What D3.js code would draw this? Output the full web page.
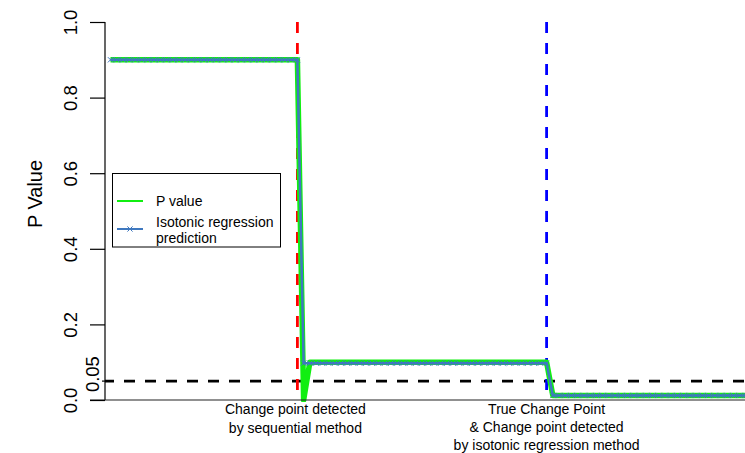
<!DOCTYPE html>
<html>
<head>
<meta charset="utf-8">
<script src="https://cdn.jsdelivr.net/npm/d3@7"></script>
<style>
  html, body { margin: 0; padding: 0; background: #fff; }
  svg { display: block; font-family: "Liberation Sans", Arial, sans-serif; }
</style>
</head>
<body>
<svg id="chart" width="745" height="453"></svg>
<script>
// Observation index of each sample
const obsIndex = [
  1,2,3,4,5,6,7,8,9,10,11,12,13,14,15,16,17,18,19,20,
  21,22,23,24,25,26,27,28,29,30,31,32,33,34,35,36,37,38,39,40,
  41,42,43,44,45,46,47,48,49,50,51,52,53,54,55,56,57,58,59,60,
  61,62,63,64,65,66,67,68,69,70,71,72,73,74,75,76,77,78,79,80,
  81,82,83,84,85,86,87,88,89,90,91,92,93,94,95,96,97,98,99,100,
  101,102,103,104
];

// Sequential p values
const pValue = [
  0.9,0.9,0.9,0.9,0.9,0.9,0.9,0.9,0.9,0.9,0.9,0.9,0.9,0.9,0.9,0.9,0.9,0.9,0.9,0.9,
  0.9,0.9,0.9,0.9,0.9,0.9,0.9,0.9,0.9,0.9,0.9,0.0,0.1,0.1,0.1,0.1,0.1,0.1,0.1,0.1,
  0.1,0.1,0.1,0.1,0.1,0.1,0.1,0.1,0.1,0.1,0.1,0.1,0.1,0.1,0.1,0.1,0.1,0.1,0.1,0.1,
  0.1,0.1,0.1,0.1,0.1,0.1,0.1,0.1,0.1,0.1,0.1,0.012,0.012,0.012,0.012,0.012,0.012,0.012,0.012,0.012,
  0.012,0.012,0.012,0.012,0.012,0.012,0.012,0.012,0.012,0.012,0.012,0.012,0.012,0.012,0.012,0.012,0.012,0.012,0.012,0.012,
  0.012,0.012,0.012,0.012
];

// Isotonic (non-increasing) regression fit of the p values
const isoFit = [
  0.9,0.9,0.9,0.9,0.9,0.9,0.9,0.9,0.9,0.9,0.9,0.9,0.9,0.9,0.9,0.9,0.9,0.9,0.9,0.9,
  0.9,0.9,0.9,0.9,0.9,0.9,0.9,0.9,0.9,0.9,0.9,0.0975,0.0975,0.0975,0.0975,0.0975,0.0975,0.0975,0.0975,0.0975,
  0.0975,0.0975,0.0975,0.0975,0.0975,0.0975,0.0975,0.0975,0.0975,0.0975,0.0975,0.0975,0.0975,0.0975,0.0975,0.0975,0.0975,0.0975,0.0975,0.0975,
  0.0975,0.0975,0.0975,0.0975,0.0975,0.0975,0.0975,0.0975,0.0975,0.0975,0.0975,0.012,0.012,0.012,0.012,0.012,0.012,0.012,0.012,0.012,
  0.012,0.012,0.012,0.012,0.012,0.012,0.012,0.012,0.012,0.012,0.012,0.012,0.012,0.012,0.012,0.012,0.012,0.012,0.012,0.012,
  0.012,0.012,0.012,0.012
];

const yTicks = [0, 0.2, 0.4, 0.6, 0.8, 1.0];
const yTickLabels = ["0.0", "0.2", "0.4", "0.6", "0.8", "1.0"];
const alphaLevel = 0.05;
const alphaLabel = "0.05";

const seqChangePoint = 31;   // detected by the sequential method
const trueChangePoint = 71;  // true change point, also found by isotonic regression

const seqNote = ["Change point detected", "by sequential method"];
const trueNote = ["True Change Point", "& Change point detected", "by isotonic regression method"];
const legendLabels = ["P value", ["Isotonic regression", "prediction"]];
const yTitle = "P Value";

const plot = { left: 105, top: 22, bottom: 400, right: 745 };
const green = "#11ee11", isoBlue = "#3f78bf";

const svg = d3.select("#chart");

const x = d3.scaleLinear().domain([1, 104]).range([110.5, 110.5 + 103 * 6.23]);
const y = d3.scaleLinear().domain([0, 1]).range([plot.bottom, plot.top]);

const data = obsIndex.map((d, i) => ({ i: d, p: pValue[i], iso: isoFit[i] }));

svg.append("defs").append("clipPath").attr("id", "plotClip")
  .append("rect").attr("x", plot.left).attr("y", plot.top - 2)
  .attr("width", plot.right - plot.left).attr("height", plot.bottom - plot.top + 4);

const g = svg.append("g").attr("clip-path", "url(#plotClip)");

// Reference lines
g.append("line")
  .attr("x1", plot.left).attr("x2", plot.right)
  .attr("y1", y(alphaLevel)).attr("y2", y(alphaLevel))
  .attr("stroke", "#000").attr("stroke-width", 2.6)
  .attr("stroke-dasharray", "11,10").attr("stroke-dashoffset", 2);

g.append("line")
  .attr("x1", x(seqChangePoint)).attr("x2", x(seqChangePoint))
  .attr("y1", plot.top).attr("y2", plot.bottom)
  .attr("stroke", "#ff0000").attr("stroke-width", 2.8)
  .attr("stroke-dasharray", "11,10");

g.append("line")
  .attr("x1", x(trueChangePoint)).attr("x2", x(trueChangePoint))
  .attr("y1", plot.top).attr("y2", plot.bottom)
  .attr("stroke", "#0000ff").attr("stroke-width", 2.8)
  .attr("stroke-dasharray", "11,10");

// P value line
const linePV = d3.line().x(d => x(d.i)).y(d => y(d.p));
g.append("path").datum(data)
  .attr("d", linePV).attr("fill", "none")
  .attr("stroke", green).attr("stroke-width", 5.5)
  .attr("stroke-linejoin", "round");

// Isotonic regression line with x markers
const lineIso = d3.line().x(d => x(d.i)).y(d => y(d.iso));
g.append("path").datum(data)
  .attr("d", lineIso).attr("fill", "none")
  .attr("stroke", isoBlue).attr("stroke-width", 2.5);

const cross = (cx, cy, r) => `M${cx - r},${cy - r}L${cx + r},${cy + r}M${cx - r},${cy + r}L${cx + r},${cy - r}`;
g.selectAll("path.mk").data(data).enter().append("path")
  .attr("class", "mk")
  .attr("d", d => cross(x(d.i), y(d.iso), 2.6))
  .attr("stroke", isoBlue).attr("stroke-width", 1).attr("fill", "none");

// Axes frame
svg.append("line")
  .attr("x1", plot.left).attr("x2", plot.left)
  .attr("y1", plot.top).attr("y2", plot.bottom)
  .attr("stroke", "#000").attr("stroke-width", 1.2);
svg.append("line")
  .attr("x1", 90).attr("x2", plot.right)
  .attr("y1", plot.bottom).attr("y2", plot.bottom)
  .attr("stroke", "#222").attr("stroke-width", 1.2);

const yAxis = d3.axisLeft(y).tickValues(yTicks)
  .tickFormat((d, i) => yTickLabels[i]).tickSize(15).tickPadding(0);
const ya = svg.append("g").attr("transform", `translate(${plot.left},0)`).call(yAxis);
ya.select(".domain").remove();
ya.selectAll(".tick line").attr("stroke", "#000").attr("stroke-width", 1.2);
ya.selectAll(".tick text")
  .attr("font-size", 18.5).attr("fill", "#000")
  .attr("text-anchor", "middle").attr("dy", null)
  .attr("x", null)
  .attr("transform", "translate(-28,0) rotate(-90)");

// Extra tick for the significance level
const ya2 = svg.append("g").attr("transform", `translate(${plot.left},0)`);
ya2.append("line")
  .attr("x1", -3).attr("x2", 4)
  .attr("y1", y(alphaLevel)).attr("y2", y(alphaLevel))
  .attr("stroke", "#000").attr("stroke-width", 1.2);
ya2.append("text")
  .attr("transform", `translate(-6,${y(alphaLevel) - 7}) rotate(-90)`)
  .attr("text-anchor", "middle").attr("font-size", 18.5).attr("fill", "#000")
  .text(alphaLabel);

// Y axis title
svg.append("text")
  .attr("transform", `translate(42,194) rotate(-90)`)
  .attr("text-anchor", "middle").attr("font-size", 20).attr("fill", "#000")
  .text(yTitle);

// Notes under the change points
const noteG = svg.append("g").attr("font-size", 14).attr("fill", "#000").attr("text-anchor", "middle");
seqNote.forEach((t, k) => {
  noteG.append("text").attr("x", x(seqChangePoint) - 2).attr("y", 414 + k * 18.5).text(t);
});
trueNote.forEach((t, k) => {
  noteG.append("text").attr("x", x(trueChangePoint)).attr("y", 413.5 + k * 18).text(t);
});

// Legend
const lg = svg.append("g");
lg.append("rect").attr("x", 112.5).attr("y", 173.5).attr("width", 168).attr("height", 73.5)
  .attr("fill", "#fff").attr("stroke", "#000").attr("stroke-width", 1);
lg.append("line").attr("x1", 117).attr("x2", 143).attr("y1", 201).attr("y2", 201)
  .attr("stroke", green).attr("stroke-width", 2);
lg.append("text").attr("x", 156).attr("y", 206).attr("font-size", 14).text(legendLabels[0]);
lg.append("line").attr("x1", 117).attr("x2", 143).attr("y1", 229).attr("y2", 229)
  .attr("stroke", isoBlue).attr("stroke-width", 2);
lg.append("path").attr("d", cross(130, 229, 2.6)).attr("stroke", isoBlue).attr("stroke-width", 1);
legendLabels[1].forEach((t, k) => {
  lg.append("text").attr("x", 156).attr("y", 227 + k * 16).attr("font-size", 14).text(t);
});
</script>
</body>
</html>
